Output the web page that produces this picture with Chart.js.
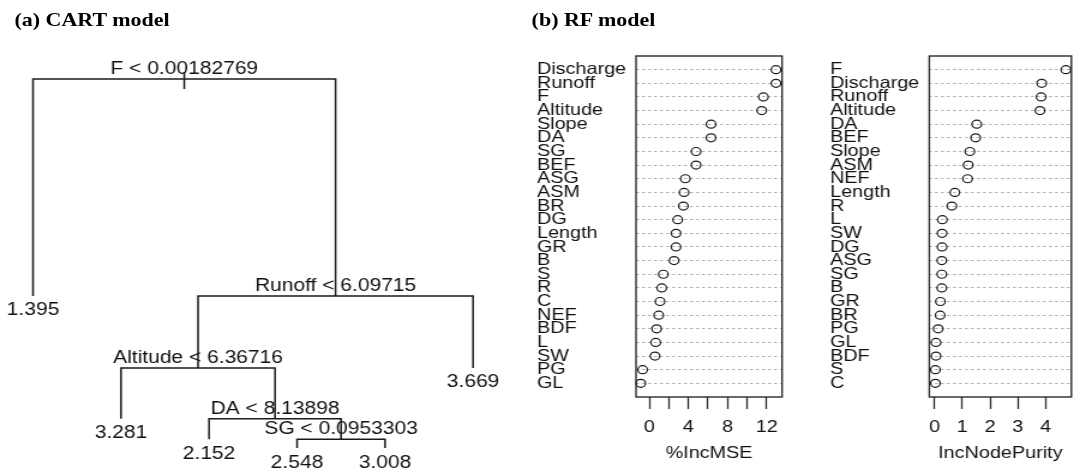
<!DOCTYPE html>
<html><head><meta charset="utf-8">
<script src="https://cdn.jsdelivr.net/npm/chart.js@4/dist/chart.umd.min.js"></script>
<style>
html,body{margin:0;padding:0;background:#fff;}
#fig{position:relative;width:1077px;height:472px;overflow:hidden;background:#fff;}
#stage{position:absolute;left:0;top:0;width:898px;height:472px;transform:scaleX(1.2);transform-origin:0 0;}
canvas{position:absolute;top:0;}
.ttl{position:absolute;font-family:"Liberation Serif","Times New Roman",serif;font-weight:bold;font-size:19.5px;line-height:19.5px;color:#000;white-space:nowrap;transform:scaleX(0.94);transform-origin:0 0;}
</style></head>
<body>
<div id="fig"><div id="stage">
<div class="ttl" style="left:11.5px;top:9.5px">(a) CART model</div>
<div class="ttl" style="left:443px;top:9.5px">(b) RF model</div>
<canvas id="tree" width="430" height="472" style="left:0px"></canvas>
<canvas id="mse" width="228" height="472" style="left:433px"></canvas>
<canvas id="purity" width="222" height="472" style="left:676px"></canvas>
</div></div>
<script>
// ---------- (a) CART tree data ----------
const splitLabels = ["F < 0.00182769", "Runoff < 6.09715", "Altitude < 6.36716", "DA < 8.13898", "SG < 0.0953303"];
const splitHeights = [100, 41.2, 21.7, 7.9, 2.4];          // node height (deviance scale)
const splitLeft  = ["L0", "S2", "L1", "L2", "L3"];
const splitRight = ["S1", "L5", "S3", "S4", "L4"];
const leafLabels = ["1.395", "3.281", "2.152", "2.548", "3.008", "3.669"];
const leafHeights = [41.2, 7.9, 2.4, 0, 0, 21.7];
const rootStem = [101.9, 97.3];

// ---------- (b) RF importance data ----------
const mseNames = ["Discharge","Runoff","F","Altitude","Slope","DA","SG","BEF","ASG","ASM","BR","DG","Length","GR","B","S","R","C","NEF","BDF","L","SW","PG","GL"];
const mseValues = [12.95,12.95,11.66,11.49,6.31,6.31,4.78,4.78,3.68,3.55,3.48,2.90,2.73,2.73,2.53,1.43,1.27,1.09,0.96,0.75,0.65,0.58,-0.68,-0.88];
const mseTicks = [0,2,4,6,8,10,12];
const mseTickLabels = [0,4,8,12];

const purityNames = ["F","Discharge","Runoff","Altitude","DA","BEF","Slope","ASM","NEF","Length","R","L","SW","DG","ASG","SG","B","GR","BR","PG","GL","BDF","S","C"];
const purityValues = [4.73,3.86,3.84,3.80,1.52,1.48,1.27,1.21,1.19,0.73,0.62,0.28,0.27,0.27,0.26,0.26,0.26,0.21,0.20,0.13,0.05,0.05,0.03,0.03];
const purityTicks = [0,1,2,3,4];
const purityTickLabels = [0,1,2,3,4];

const SANS = '"Liberation Sans", Arial, Helvetica, sans-serif';
const INK = '#111';

// ---------- tree ----------
function nodeX(id){
  const k = +id.slice(1);
  if (id[0] === 'L') return k + 1;
  return (nodeX(splitLeft[k]) + nodeX(splitRight[k])) / 2;
}
function nodeH(id){
  const k = +id.slice(1);
  return id[0] === 'L' ? leafHeights[k] : splitHeights[k];
}
const LINE = '#1a1a1a';
const treeSets = splitLabels.map((_, k) => {
  const a = splitLeft[k], b = splitRight[k], h = splitHeights[k];
  return {
    data: [{x: nodeX(a), y: nodeH(a)}, {x: nodeX(a), y: h}, {x: nodeX(b), y: h}, {x: nodeX(b), y: nodeH(b)}],
    showLine: true, pointRadius: 0, borderColor: LINE, borderWidth: 1.5, clip: false, tension: 0
  };
});
const rx = nodeX('S0');
treeSets.push({data: [{x: rx, y: rootStem[0]}, {x: rx, y: rootStem[1]}], showLine: true, pointRadius: 0, borderColor: LINE, borderWidth: 1.5, clip: false});

const treeLabelPlugin = {
  id: 'treeLabels',
  afterDatasetsDraw(chart){
    const {ctx, scales: {x, y}} = chart;
    ctx.save();
    ctx.font = '17.5px ' + SANS;
    ctx.fillStyle = INK;
    ctx.textAlign = 'center';
    ctx.textBaseline = 'alphabetic';
    splitLabels.forEach((t, k) => {
      ctx.fillText(t, x.getPixelForValue(nodeX('S' + k)), y.getPixelForValue(splitHeights[k]) - 5);
    });
    leafLabels.forEach((t, k) => {
      ctx.fillText(t, x.getPixelForValue(k + 1), y.getPixelForValue(leafHeights[k]) + 19.5);
    });
    ctx.restore();
  }
};

new Chart(document.getElementById('tree'), {
  type: 'scatter',
  data: {datasets: treeSets},
  options: {
    responsive: false, animation: false, events: [],
    layout: {padding: {left: 27.5, right: 35.8, top: 79, bottom: 24}},
    plugins: {legend: {display: false}, tooltip: {enabled: false}},
    scales: {
      x: {type: 'linear', display: false, min: 1, max: leafLabels.length},
      y: {type: 'linear', display: false, min: 0, max: 100}
    }
  },
  plugins: [treeLabelPlugin]
});

// ---------- dot charts ----------
const boxPlugin = {
  id: 'box',
  afterDatasetsDraw(chart){
    const a = chart.chartArea, ctx = chart.ctx;
    ctx.save();
    ctx.strokeStyle = '#2a2a2a';
    ctx.lineWidth = 1.4;
    ctx.strokeRect(a.left, a.top, a.right - a.left, a.bottom - a.top);
    ctx.restore();
  }
};

function dotChart(id, names, values, ticks, tickLabels, xmin, xmax, title, padL, yWidth, padR){
  return new Chart(document.getElementById(id), {
    type: 'scatter',
    data: {datasets: [{
      data: values.map((v, i) => ({x: v, y: i + 1})),
      pointRadius: 4, pointBorderWidth: 1.2, borderColor: '#1a1a1a',
      backgroundColor: 'rgba(0,0,0,0)', pointStyle: 'circle', clip: false
    }]},
    options: {
      responsive: false, animation: false, events: [],
      layout: {padding: {left: padL, right: padR, top: 56, bottom: 0}},
      plugins: {legend: {display: false}, tooltip: {enabled: false}},
      scales: {
        x: {
          type: 'linear', min: xmin, max: xmax,
          afterBuildTicks: s => { s.ticks = ticks.map(v => ({value: v})); },
          afterFit: s => { s.height = 75; },
          ticks: {callback: v => tickLabels.includes(v) ? String(v) : '', font: {family: SANS, size: 16.5}, color: INK, padding: 9, maxRotation: 0, autoSkip: false},
          grid: {drawOnChartArea: false, drawTicks: true, tickLength: 12, tickColor: '#2a2a2a', tickWidth: 1.3},
          border: {display: false},
          title: {display: true, text: title, font: {family: SANS, size: 16.5}, color: INK, padding: {top: 0, bottom: 9}}
        },
        y: {
          type: 'linear', reverse: true, min: 0, max: names.length + 1,
          afterBuildTicks: s => { s.ticks = names.map((n, i) => ({value: i + 1})); },
          afterFit: s => { s.width = yWidth; },
          ticks: {callback: (v, i) => names[i], crossAlign: 'far', autoSkip: false, padding: 0, font: {family: SANS, size: 16.5}, color: INK},
          grid: {color: '#b0b0b0', lineWidth: 1, drawTicks: false},
          border: {display: false, dash: [2.5, 2.5]}
        }
      }
    },
    plugins: [boxPlugin]
  });
}

dotChart('mse', mseNames, mseValues, mseTicks, mseTickLabels, -1.36, 13.57, '%IncMSE', 14.5, 82.5, 9.3);
dotChart('purity', purityNames, purityValues, purityTicks, purityTickLabels, -0.19, 4.93, 'IncNodePurity', 15.7, 82.7, 1.3);
</script>
</body></html>
